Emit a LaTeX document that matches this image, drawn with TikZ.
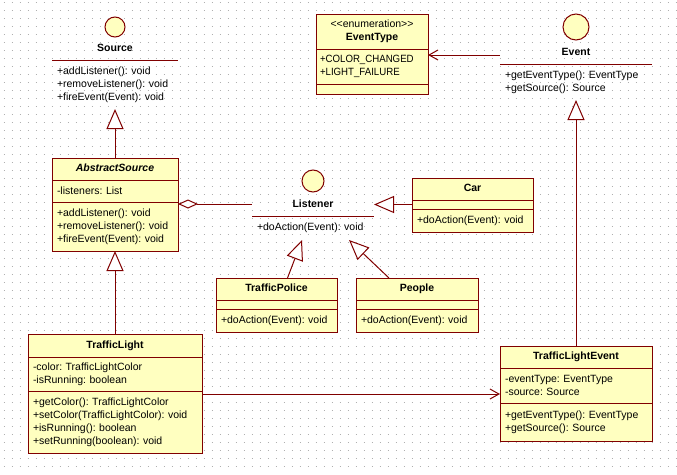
\documentclass[tikz,border=0pt]{standalone}
\usepackage{fontspec}
\setmainfont{Liberation Sans}
\usepackage{tikz}
\usetikzlibrary{positioning}
\usetikzlibrary{arrows.meta}

\definecolor{umlred}{RGB}{128,0,0}
\definecolor{umlfill}{RGB}{255,255,192}
\definecolor{dotgray}{RGB}{175,175,175}

\newcommand{\umlfont}{\fontsize{10.5}{13}\selectfont\frenchspacing}

\tikzset{
    umlbox/.style={draw=umlred, fill=umlfill, line width=1pt, rectangle, inner xsep=5pt, inner ysep=0pt, outer sep=0pt, align=left, font=\umlfont},
    umlname/.style={umlbox, align=center, text depth=2.5pt, font=\umlfont\bfseries},
    umlicon/.style={draw=umlred, fill=umlfill, line width=1pt, circle, inner sep=0pt, minimum size=#1},
    ifname/.style={font=\umlfont\bfseries, inner sep=0pt},
    ifops/.style={rectangle, align=left, inner xsep=5pt, inner ysep=0pt, outer sep=0pt, font=\umlfont},
    inherits/.style={draw=umlred, line width=1pt, -{Triangle[length=20pt, width=17pt, fill=white]}},
    assoc/.style={draw=umlred, line width=1pt, -{Straight Barb[length=9pt, width=10pt]}},
    aggr/.style={draw=umlred, line width=1pt, {Diamond[length=20pt, width=9pt, fill=white]}-}
}

\begin{document}
\begin{tikzpicture}[x=1pt, y=-1pt]
    \useasboundingbox (0,0) rectangle (677,474);
    %Grid
    \foreach \gy in {2,10,...,466}
        \draw[dotgray, line width=1pt, dash pattern=on 1pt off 7pt] (3.5,\gy) -- (677,\gy);

    %Interfaces
    \node[umlicon=20pt] (src-icon) at (115,27) {};
    \node[ifname] (src-name) at (115,48) {Source};
    \node[ifops, text width=116pt, minimum height=49pt, anchor=north west] (src-ops) at (52,60)
        {+addListener(): void\\+removeListener(): void\\+fireEvent(Event): void};

    \node[umlicon=22pt] (lis-icon) at (313,181) {};
    \node[ifname] (lis-name) at (313,204) {Listener};
    \node[ifops, text width=112pt, minimum height=24pt, anchor=north west] (lis-ops) at (252,216)
        {+doAction(Event): void};

    \node[umlicon=26pt] (ev-icon) at (576,27) {};
    \node[ifname] (ev-name) at (576,52) {Event};
    \node[ifops, text width=142pt, minimum height=36pt, anchor=north west] (ev-ops) at (500,64)
        {+getEventType(): EventType\\+getSource(): Source};

    \draw[umlred, line width=1pt] (src-ops.north west) -- (src-ops.north east)
            (lis-ops.north west) -- (lis-ops.north east)
            (ev-ops.north west) -- (ev-ops.north east);

    %Classes
    \node[umlbox, align=center, font=\umlfont\bfseries, text width=102pt, minimum height=35pt, anchor=north west] (et-name) at (316,14)
        {{\mdseries <{}<enumeration>{}>}\\EventType};
    \node[umlbox, text width=104pt, minimum height=35pt, inner xsep=4pt, below=0pt of et-name] (et-lits)
        {\addfontfeatures{FakeStretch=0.92}+COLOR\_CHANGED\\+LIGHT\_FAILURE};
    \node[umlbox, text width=102pt, minimum height=10pt, below=0pt of et-lits] (et-ops) {};

    \node[umlname, text width=116pt, minimum height=22pt, anchor=north west] (abs-name) at (52,158)
        {\itshape AbstractSource};
    \node[umlbox, text width=116pt, minimum height=22pt, below=0pt of abs-name] (abs-attr) {-listeners: List};
    \node[umlbox, text width=116pt, minimum height=49pt, below=0pt of abs-attr] (abs-ops)
        {+addListener(): void\\+removeListener(): void\\+fireEvent(Event): void};

    \node[umlname, text width=111pt, minimum height=22pt, anchor=north west] (car-name) at (412,178) {Car};
    \node[umlbox, text width=111pt, minimum height=9pt, below=0pt of car-name] (car-attr) {};
    \node[umlbox, text width=111pt, minimum height=23pt, below=0pt of car-attr] (car-ops) {+doAction(Event): void};

    \node[umlname, text width=111pt, minimum height=22pt, anchor=north west] (tp-name) at (216,278) {TrafficPolice};
    \node[umlbox, text width=111pt, minimum height=9pt, below=0pt of tp-name] (tp-attr) {};
    \node[umlbox, text width=111pt, minimum height=23pt, below=0pt of tp-attr] (tp-ops) {+doAction(Event): void};

    \node[umlname, text width=112pt, minimum height=22pt, anchor=north west] (pp-name) at (356,278) {People};
    \node[umlbox, text width=112pt, minimum height=9pt, below=0pt of pp-name] (pp-attr) {};
    \node[umlbox, text width=112pt, minimum height=23pt, below=0pt of pp-attr] (pp-ops) {+doAction(Event): void};

    \node[umlname, text width=164pt, minimum height=23pt, anchor=north west] (tl-name) at (28,334) {TrafficLight};
    \node[umlbox, text width=164pt, minimum height=34pt, below=0pt of tl-name] (tl-attr)
        {-color: TrafficLightColor\\-isRunning: boolean};
    \node[umlbox, text width=164pt, minimum height=62pt, below=0pt of tl-attr] (tl-ops)
        {+getColor(): TrafficLightColor\\+setColor(TrafficLightColor): void\\+isRunning(): boolean\\+setRunning(boolean): void};

    \node[umlname, text width=142pt, minimum height=22pt, anchor=north west] (tle-name) at (500,346) {TrafficLightEvent};
    \node[umlbox, text width=142pt, minimum height=35pt, below=0pt of tle-name] (tle-attr)
        {-eventType: EventType\\-source: Source};
    \node[umlbox, text width=142pt, minimum height=38pt, below=0pt of tle-attr] (tle-ops)
        {+getEventType(): EventType\\+getSource(): Source};

    %Lines
    \draw[inherits] (abs-name) -- (src-ops);
    \draw[inherits] (tl-name) -- (abs-ops);
    \draw[inherits] (tle-name) -- (ev-ops);
    \draw[inherits] (car-attr.west) -- (car-attr.west -| lis-ops.east);
    \draw[inherits] ([xshift=11pt]tp-name.north) -- ([xshift=-11pt]lis-ops.south);
    \draw[inherits] ([xshift=-28pt]pp-name.north) -- ([xshift=36pt]lis-ops.south);
    \draw[aggr] (abs-ops.east |- lis-name) -- (lis-ops.west |- lis-name);
    \draw[assoc] ([yshift=9pt]ev-ops.north west) -- ([yshift=9pt]ev-ops.north west -| et-lits.east);
    \draw[assoc] ([yshift=-3pt]tl-ops.north east) -- ([yshift=-3pt]tl-ops.north east -| tle-attr.west);
\end{tikzpicture}
\end{document}
